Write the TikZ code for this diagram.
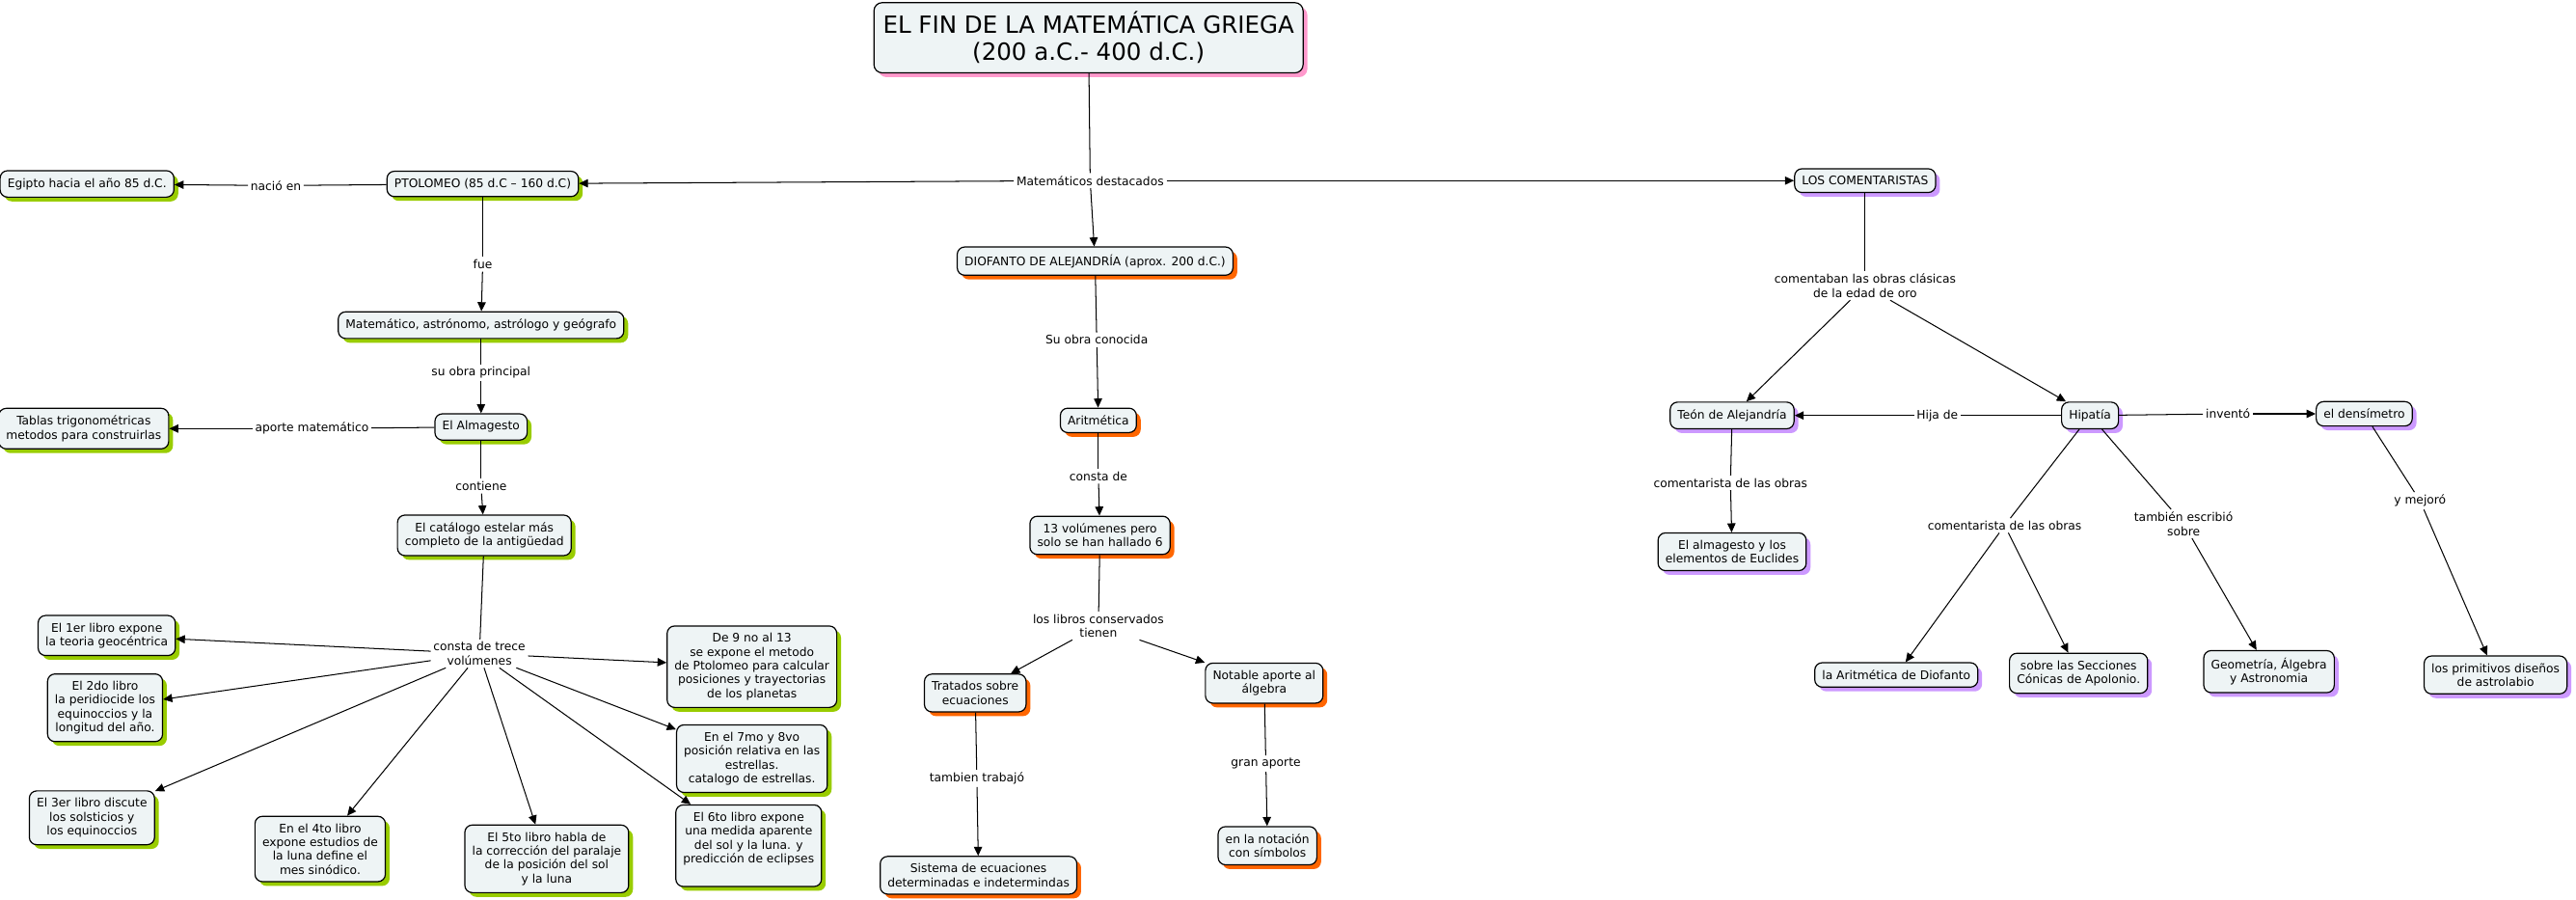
\documentclass[tikz,border=0pt]{standalone}
\usepackage{fontspec}
\setmainfont{DejaVu Sans}
\usetikzlibrary{arrows.meta,shadows}

\definecolor{conceptfill}{HTML}{EEF4F5}
\definecolor{ptolgreen}{HTML}{99CC00}
\definecolor{dioforange}{HTML}{FF6600}
\definecolor{comentpurple}{HTML}{CC99FF}
\definecolor{titlepink}{HTML}{FF99CC}

\begin{document}
\begin{tikzpicture}[x=1pt,y=-1pt,
    concept/.style={draw, line width=0.7pt, rounded corners=4.5pt, fill=conceptfill,
      align=center, inner xsep=4.5pt, inner ysep=4.5pt, font=\fontsize{7.2}{8.4}\selectfont},
    green/.style={concept, drop shadow={shadow xshift=2.6pt, shadow yshift=-2.6pt, fill=ptolgreen, opacity=1}},
    orange/.style={concept, drop shadow={shadow xshift=2.6pt, shadow yshift=-2.6pt, fill=dioforange, opacity=1}},
    purple/.style={concept, drop shadow={shadow xshift=2.6pt, shadow yshift=-2.6pt, fill=comentpurple, opacity=1}},
    linking/.style={align=center, inner sep=1.5pt, font=\fontsize{7.2}{8.4}\selectfont},
    line/.style={line width=0.6pt},
    link/.style={line width=0.6pt, -{Triangle[length=5.5pt,width=5pt]}}]
    \useasboundingbox (0,0) rectangle (1569,548);

    % title
    \node[concept, rounded corners=5pt, inner xsep=5.5pt, inner ysep=5.5pt,
      font=\fontsize{14.4}{16.5}\selectfont,
      drop shadow={shadow xshift=2.6pt, shadow yshift=-2.6pt, fill=titlepink, opacity=1}]
      (title) at (663,23) {EL FIN DE LA MATEMÁTICA GRIEGA\\(200 a.C.- 400 d.C.)};

    % Ptolomeo
    \node[green] (egipto) at (53,112) {Egipto hacia el año 85 d.C.};
    \node[green] (ptolomeo) at (294,112) {PTOLOMEO (85 d.C – 160 d.C)};
    \node[green] (matem) at (293,198) {Matemático, astrónomo, astrólogo y geógrafo};
    \node[green] (tablas) at (51,261) {Tablas trigonométricas\\metodos para construirlas};
    \node[green] (almag) at (293,260) {El Almagesto};
    \node[green] (catalogo) at (295,326) {El catálogo estelar más\\completo de la antigüedad};
    \node[green] (l1) at (65,387) {El 1er libro expone\\la teoria geocéntrica};
    \node[green] (l2) at (64,431) {El 2do libro\\la peridiocide los\\equinoccios y la\\longitud del año.};
    \node[green] (l3) at (56,498) {El 3er libro discute\\los solsticios y\\los equinoccios};
    \node[green] (l4) at (195,517) {En el 4to libro\\expone estudios de\\la luna define el\\mes sinódico.};
    \node[green] (l5) at (333,523) {El 5to libro habla de\\la corrección del paralaje\\de la posición del sol\\y la luna};
    \node[green] (l9) at (458,406) {De 9 no al 13\\se expone el metodo\\de Ptolomeo para calcular\\posiciones y trayectorias\\de los planetas};
    \node[green] (l7) at (458,462) {En el 7mo y 8vo\\posición relativa en las\\estrellas.\\catalogo de estrellas.};
    \node[green, text depth=10pt] (l6) at (456,515) {El 6to libro expone\\una medida aparente\\del sol y la luna. y\\predicción de eclipses};

    % Diofanto
    \node[orange] (diofanto) at (667,159) {DIOFANTO DE ALEJANDRÍA (aprox. 200 d.C.)};
    \node[orange] (aritm) at (669,256) {Aritmética};
    \node[orange] (vol13) at (670,326) {13 volúmenes pero\\solo se han hallado 6};
    \node[orange] (tratados) at (594,422) {Tratados sobre\\ecuaciones};
    \node[orange] (notable) at (770,416) {Notable aporte al\\álgebra};
    \node[orange] (sistema) at (596,533) {Sistema de ecuaciones\\determinadas e indetermindas};
    \node[orange] (notacion) at (772,515) {en la notación\\con símbolos};

    % comentaristas
    \node[purple] (coment) at (1136,110) {LOS COMENTARISTAS};
    \node[purple] (teon) at (1055,253) {Teón de Alejandría};
    \node[purple] (hipatia) at (1273,253) {Hipatía};
    \node[purple] (densim) at (1440,252) {el densímetro};
    \node[purple] (euclides) at (1055,336) {El almagesto y los\\elementos de Euclides};
    \node[purple] (aritdio) at (1155,411) {la Aritmética de Diofanto};
    \node[purple] (conicas) at (1266,410) {sobre las Secciones\\Cónicas de Apolonio.};
    \node[purple] (geom) at (1382,409) {Geometría, Álgebra\\y Astronomia};
    \node[purple] (astrol) at (1520,411) {los primitivos diseños\\de astrolabio};

    % linking phrases
    \node[linking] (destacados) at (664,110) {Matemáticos destacados};
    \node[linking] (nacio) at (168,113) {nació en};
    \node[linking] (fue) at (294,161) {fue};
    \node[linking] (suobra) at (293,227) {su obra principal};
    \node[linking] (aporte) at (190,261) {aporte matemático};
    \node[linking] (contiene) at (293,296) {contiene};
    \node[linking] (trece) at (292,398) {consta de trece\\volúmenes};
    \node[linking] (conocida) at (668,207) {Su obra conocida};
    \node[linking] (constade) at (669,290) {consta de};
    \node[linking] (conservados) at (669,381) {los libros conservados\\tienen};
    \node[linking] (trabajo) at (595,474) {tambien trabajó};
    \node[linking] (granaporte) at (771,465) {gran aporte};
    \node[linking] (comentaban) at (1136,174) {comentaban las obras clásicas\\de la edad de oro};
    \node[linking] (hija) at (1180,253) {Hija de};
    \node[linking] (invento) at (1357,252) {inventó};
    \node[linking] (comteon) at (1054,294) {comentarista de las obras};
    \node[linking] (comhip) at (1221,320) {comentarista de las obras};
    \node[linking] (escribio) at (1330,319) {también escribió\\sobre};
    \node[linking] (mejoro) at (1474,305) {y mejoró};

    % connectors
    \draw[line] (title) -- (destacados);
    \draw[link] (destacados) -- (ptolomeo);
    \draw[link] (destacados) -- (diofanto);
    \draw[link] (destacados) -- (coment);

    \draw[line] (ptolomeo) -- (nacio);
    \draw[link] (nacio) -- (egipto);
    \draw[line] (ptolomeo) -- (fue);
    \draw[link] (fue) -- (matem);
    \draw[line] (matem) -- (suobra);
    \draw[link] (suobra) -- (almag);
    \draw[line] (almag) -- (aporte);
    \draw[link] (aporte) -- (tablas);
    \draw[line] (almag) -- (contiene);
    \draw[link] (contiene) -- (catalogo);
    \draw[line] (catalogo) -- (trece);
    \foreach \b in {l1,l2,l3,l4,l5,l9,l7,l6}
      \draw[link] (trece) -- (\b);

    \draw[line] (diofanto) -- (conocida);
    \draw[link] (conocida) -- (aritm);
    \draw[line] (aritm) -- (constade);
    \draw[link] (constade) -- (vol13);
    \draw[line] (vol13) -- (conservados);
    \draw[link] (conservados) -- (tratados);
    \draw[link] (conservados) -- (notable);
    \draw[line] (tratados) -- (trabajo);
    \draw[link] (trabajo) -- (sistema);
    \draw[line] (notable) -- (granaporte);
    \draw[link] (granaporte) -- (notacion);

    \draw[line] (coment) -- (comentaban);
    \draw[link] (comentaban) -- (teon);
    \draw[link] (comentaban) -- (hipatia);
    \draw[line] (hipatia) -- (hija);
    \draw[link] (hija) -- (teon);
    \draw[line] (hipatia) -- (invento);
    \draw[link] (invento) -- (densim);
    \draw[line] (teon) -- (comteon);
    \draw[link] (comteon) -- (euclides);
    \draw[line] (hipatia) -- (comhip);
    \draw[link] (comhip) -- (aritdio);
    \draw[link] (comhip) -- (conicas);
    \draw[line] (hipatia) -- (escribio);
    \draw[link] (escribio) -- (geom);
    \draw[line] (densim) -- (mejoro);
    \draw[link] (mejoro) -- (astrol);
\end{tikzpicture}
\end{document}
